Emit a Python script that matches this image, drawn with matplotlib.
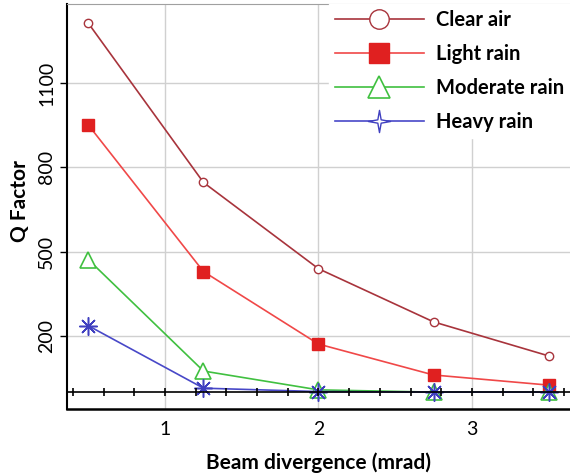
import matplotlib
matplotlib.use("Agg")
import matplotlib.pyplot as plt
from matplotlib.ticker import MultipleLocator
from matplotlib.path import Path

plt.rcParams['font.family'] = ['Lato', 'DejaVu Sans']

divergence = [0.5, 1.25, 2.0, 2.75, 3.5]
clear_air = [1312, 746, 439, 250, 129]
light_rain = [950, 429, 171, 61, 25]
moderate_rain = [471, 75, 8, 0, 0]
heavy_rain = [236, 14, 2, 0, 0]
series_names = ["Clear air", "Light rain", "Moderate rain", "Heavy rain"]
x_ticks = [1, 2, 3]
y_ticks = [200, 500, 800, 1100]

fig = plt.figure(figsize=(5.7, 4.76), dpi=100)
ax = fig.add_axes([0.1175, 0.1408, 0.8825, 0.8508])

ax.plot(divergence, clear_air, color="#A8343C", lw=1.2, marker="o", ms=6,
        mfc="white", mec="#A8343C", mew=1.0, label=series_names[0])
ax.plot(divergence, light_rain, color="#F04848", lw=1.2, marker="s", ms=9,
        mfc="#E02020", mec="#E02020", label=series_names[1])
ax.plot(divergence, moderate_rain, color="#40C040", lw=1.2, marker="^", ms=12,
        mfc="white", mec="#40C040", mew=1.2, label=series_names[2])
ax.plot(divergence, heavy_rain, color="#4848C8", lw=1.2, marker=(8, 2, 0), ms=13,
        mec="#4040C0", mew=1.1, label=series_names[3])

ax.set_xlim(0.36, 3.64)
ax.set_ylim(-60, 1381)
ax.set_xticks(x_ticks)
ax.set_yticks(y_ticks)
ax.grid(True, color="#D0D0D0", lw=1.0)
ax.set_axisbelow(True)

for lab in ax.get_yticklabels():
    lab.set_rotation(90)
    lab.set_va("center")
ax.tick_params(axis="y", labelsize=14, length=5, width=1, direction="out", color="black")
ax.tick_params(axis="x", labelsize=14, length=0, pad=9)

ax.spines["right"].set_visible(False)
ax.spines["top"].set_color("#A0A0A0")
ax.spines["top"].set_linestyle((0, (1, 1)))
ax.spines["left"].set_linewidth(1.5)
ax.spines["bottom"].set_linewidth(1.8)

# zero line with minor ticks
ax2 = ax.twiny()
ax2.set_xlim(ax.get_xlim())
for s in ["top", "right", "left"]:
    ax2.spines[s].set_visible(False)
ax2.spines["bottom"].set_position(("data", 0))
ax2.spines["bottom"].set_linewidth(1.2)
ax2.xaxis.set_ticks_position("bottom")
ax2.xaxis.set_major_locator(MultipleLocator(0.2))
ax2.tick_params(axis="x", direction="inout", length=6, width=1.2, labelbottom=False, labeltop=False)

ax.set_xlabel("Beam divergence (mrad)", fontsize=15, fontweight="bold", labelpad=10)
ax.set_ylabel("Q Factor", fontsize=15, fontweight="bold")
ax.yaxis.set_label_coords(-0.074, 0.514)

leg = ax.legend(loc="upper right", fontsize=14.5, handlelength=4.4, frameon=True,
                fancybox=False, edgecolor="white", framealpha=1.0,
                borderaxespad=0.0, borderpad=0.3, labelspacing=0.70, handletextpad=0.6)
for t in leg.get_texts():
    t.set_fontweight("bold")
leg.set_zorder(10)

# larger legend markers as in the reference
star4 = Path([(0, 1), (0.15, 0.15), (1, 0), (0.15, -0.15), (0, -1),
              (-0.15, -0.15), (-1, 0), (-0.15, 0.15), (0, 1)],
             [Path.MOVETO] + [Path.LINETO] * 7 + [Path.CLOSEPOLY])
handles = leg.legend_handles
handles[0].set_markersize(14)
handles[1].set_markersize(15)
handles[2].set_markersize(16)
handles[3].set_marker(star4)
handles[3].set_markersize(16)
handles[3].set_markerfacecolor("white")
handles[3].set_markeredgewidth(1.0)

fig.savefig("out.png", dpi=100)
